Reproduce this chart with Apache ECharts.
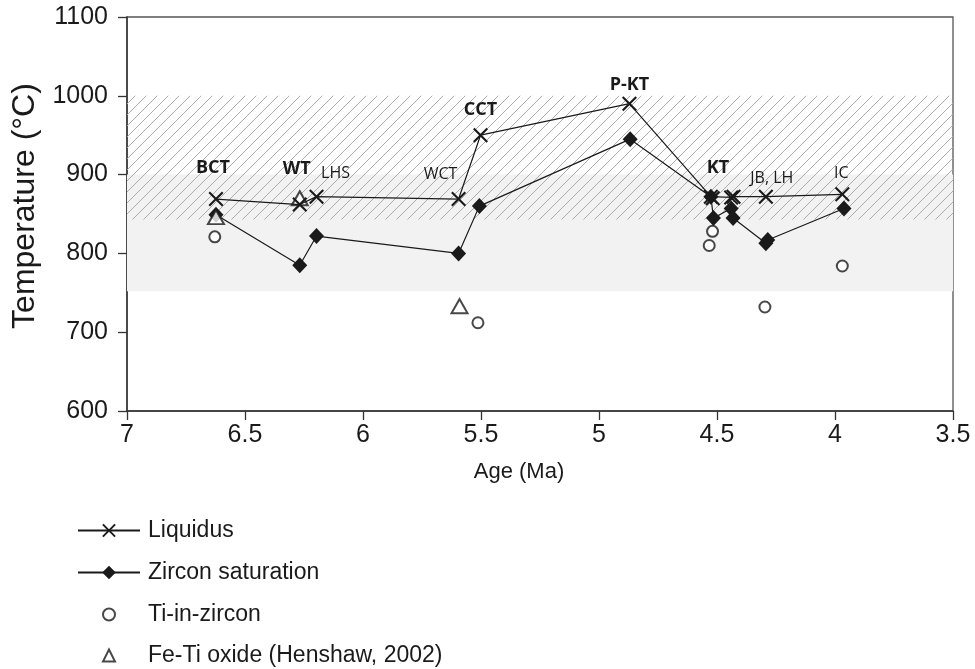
<!DOCTYPE html>
<html><head><meta charset="utf-8">
<script src="https://cdn.jsdelivr.net/npm/echarts@6/dist/echarts.min.js"></script>
<style>html,body{margin:0;padding:0;background:#fff}#c{width:975px;height:669px}</style>
</head><body><div id="c"></div>
<script>
// ---- data ----
var liquidusAge  = [6.623, 6.268, 6.197, 5.595, 5.502, 4.871, 4.526, 4.518, 4.440, 4.430, 4.293, 3.969];
var liquidusTemp = [869, 862, 872, 869, 950, 990, 872, 870, 871, 872, 872, 875];
var liquidusLabel = ['BCT', 'WT', 'LHS', 'WCT', 'CCT', 'P-KT', 'KT', '', '', '', 'JB, LH', 'IC'];
var labelBold = [true, true, false, false, true, true, true, false, false, false, false, false];

var zirconAge  = [6.623, 6.268, 6.197, 5.595, 5.507, 4.868, 4.526, 4.515, 4.440, 4.432, 4.293, 4.285, 3.962];
var zirconTemp = [849, 785, 822, 800, 860, 945, 872, 845, 857, 845, 813, 817, 857];

var tiAge  = [6.628, 5.513, 4.519, 4.533, 4.297, 3.969];
var tiTemp = [821, 712, 828, 810, 732, 784];

var feAge  = [6.623, 6.268, 5.591];
var feTemp = [846, 870, 733];

var greyBand  = [752, 900];
var hatchBand = [843, 1000];

var seriesNames = ['Liquidus', 'Zircon saturation', 'Ti-in-zircon', 'Fe-Ti oxide (Henshaw, 2002)'];

// ---- styles ----
var labelOffsets = [[-3,-31],[-3,-36],[19,-23],[-18,-25],[0,-25],[0,-19],[7,-29],[0,0],[0,0],[0,0],[6,-18],[-1,-21]];
var legendTops = [519, 561, 603, 644];
var ink = '#1a1a1a';
var crossPath = 'path://M0,1 L1,0 L5,4 L9,0 L10,1 L6,5 L10,9 L9,10 L5,6 L1,10 L0,9 L4,5 Z';

function hatchPattern() {
  var s = 11, c = document.createElement('canvas');
  c.width = s; c.height = s;
  var g = c.getContext('2d');
  g.strokeStyle = '#ababab'; g.lineWidth = 1;
  g.beginPath();
  g.moveTo(-1, s + 1); g.lineTo(s + 1, -1);
  g.moveTo(-1, 1); g.lineTo(1, -1);
  g.moveTo(s - 1, s + 1); g.lineTo(s + 1, s - 1);
  g.stroke();
  return {image: c, repeat: 'repeat'};
}

function zip(a, b) { return a.map(function (v, i) { return [v, b[i]]; }); }

var liqData = liquidusAge.map(function (a, i) {
  var item = {value: [a, liquidusTemp[i]]};
  if (liquidusLabel[i]) {
    item.label = {
      show: true, formatter: liquidusLabel[i], position: 'inside',
      offset: labelOffsets[i],
      fontFamily: 'Open Sans', fontSize: labelBold[i] ? 18 : 16,
      fontWeight: labelBold[i] ? 'bold' : 'normal', color: ink
    };
  }
  return item;
});

var legends = seriesNames.map(function (n, i) {
  var isLine = i < 2;
  return {
    data: [n], orient: 'vertical', padding: 0,
    left: isLine ? 77 : 102, top: legendTops[i],
    itemWidth: isLine ? 62 : 12, itemHeight: isLine ? 17 : 12,
    textStyle: {fontSize: 23, color: ink, fontFamily: 'Liberation Sans',
      padding: isLine ? [0, 0, 0, 3] : [0, 0, 0, 28]}
  };
});

var chart = echarts.init(document.getElementById('c'), null, {renderer: 'canvas'});
chart.setOption({
  animation: false,
  backgroundColor: '#fff',
  textStyle: {fontFamily: 'Liberation Sans'},
  grid: {left: 127, right: 22, top: 17, bottom: 258, containLabel: false, outerBoundsMode: 'none',
    show: true, borderColor: '#555', borderWidth: 1.3, backgroundColor: 'transparent'},
  xAxis: {
    type: 'value', inverse: true, min: 3.5, max: 7, interval: 0.5,
    name: 'Age (Ma)', nameLocation: 'middle', nameGap: 50,
    nameTextStyle: {fontSize: 22, color: ink, padding: [0, 42, 0, 0]},
    axisLine: {show: true, lineStyle: {color: '#333', width: 1.5}},
    axisTick: {show: true, inside: false, length: 9, lineStyle: {color: '#333', width: 1.3}},
    axisLabel: {fontSize: 25, color: ink, margin: 12, formatter: function (v) { return String(v); }},
    splitLine: {show: false}
  },
  yAxis: {
    type: 'value', min: 600, max: 1100, interval: 100,
    name: 'Temperature (\u00B0C)', nameLocation: 'middle', nameGap: 84,
    nameTextStyle: {fontSize: 32, color: ink, padding: [0, 0, 0, 16]},
    axisLine: {show: true, lineStyle: {color: '#333', width: 1.5}},
    axisTick: {show: true, inside: false, length: 9, lineStyle: {color: '#333', width: 1.3}},
    axisLabel: {fontSize: 25, color: ink, margin: 19, formatter: function (v) { return String(v); }},
    splitLine: {show: false}
  },
  legend: legends,
  series: [{
    name: 'bands', type: 'line', data: [], silent: true,
    markArea: {
      silent: true,
      data: [
        [{yAxis: greyBand[0], itemStyle: {color: '#f2f2f2'}}, {yAxis: greyBand[1]}],
        [{yAxis: hatchBand[0], itemStyle: {color: hatchPattern()}}, {yAxis: hatchBand[1]}]
      ]
    }
  }, {
    name: seriesNames[0], type: 'line', data: liqData,
    symbol: crossPath, symbolSize: 15,
    lineStyle: {color: ink, width: 1.2},
    itemStyle: {color: ink}, z: 4
  }, {
    name: seriesNames[1], type: 'line', data: zip(zirconAge, zirconTemp),
    symbol: 'diamond', symbolSize: [15, 16],
    lineStyle: {color: ink, width: 1.2},
    itemStyle: {color: ink}, z: 3
  }, {
    name: seriesNames[2], type: 'scatter', data: zip(tiAge, tiTemp),
    symbol: 'emptyCircle', symbolSize: 11,
    itemStyle: {color: ink, borderColor: ink, borderWidth: 1.8}, z: 3
  }, {
    name: seriesNames[3], type: 'scatter', data: zip(feAge, feTemp),
    symbol: 'emptyTriangle', symbolSize: [16, 14],
    itemStyle: {color: ink, borderColor: ink, borderWidth: 1.6}, z: 3
  }]
});
</script></body></html>
